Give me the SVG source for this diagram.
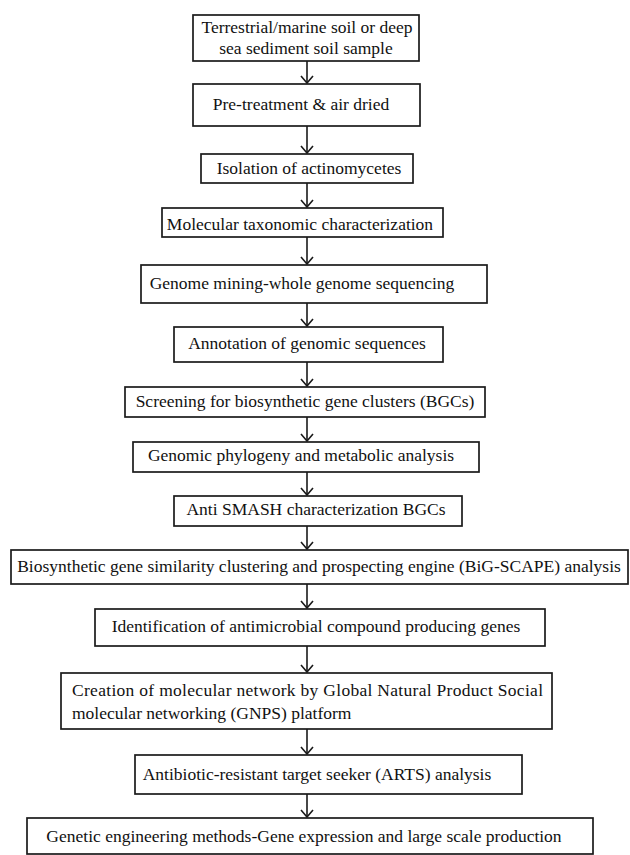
<svg xmlns="http://www.w3.org/2000/svg" width="630" height="855" viewBox="0 0 630 855">
<style>
.box{fill:#fff;stroke:#1a1a1a;stroke-width:1.7}
.t{font-family:"Liberation Serif","Times New Roman",serif;font-size:17.5px;fill:#111}
.c{text-anchor:middle}
.conn{stroke:#1a1a1a;stroke-width:1.6;fill:none}
</style>
<defs>
<marker id="arr" markerUnits="userSpaceOnUse" markerWidth="16" markerHeight="16" viewBox="0 0 16 16" refX="9" refY="7" orient="auto">
<path d="M2,1 L9,7 L2,13" fill="none" stroke="#1a1a1a" stroke-width="1.6"/>
</marker>
</defs>
<rect width="630" height="855" fill="#fff"/>
<g id="connectors">
<path class="conn" marker-end="url(#arr)" d="M307,61 V83"/>
<path class="conn" marker-end="url(#arr)" d="M307,126 V153"/>
<path class="conn" marker-end="url(#arr)" d="M307,183 V207"/>
<path class="conn" marker-end="url(#arr)" d="M307,237 V264"/>
<path class="conn" marker-end="url(#arr)" d="M307,303 V326"/>
<path class="conn" marker-end="url(#arr)" d="M307,362 V386"/>
<path class="conn" marker-end="url(#arr)" d="M307,417 V441"/>
<path class="conn" marker-end="url(#arr)" d="M307,472 V495"/>
<path class="conn" marker-end="url(#arr)" d="M307,526 V549"/>
<path class="conn" marker-end="url(#arr)" d="M307,584 V608"/>
<path class="conn" marker-end="url(#arr)" d="M307,646 V672"/>
<path class="conn" marker-end="url(#arr)" d="M307,729 V754"/>
<path class="conn" marker-end="url(#arr)" d="M307,794 V817"/>
</g>
<g id="n1"><rect class="box" x="193" y="15" width="226" height="46"/>
<text class="t c" x="307" y="33">Terrestrial/marine soil or deep</text>
<text class="t c" x="306" y="54">sea sediment soil sample</text></g>
<g id="n2"><rect class="box" x="193" y="84" width="227" height="42"/>
<text class="t c" x="301" y="110">Pre-treatment &amp; air dried</text></g>
<g id="n3"><rect class="box" x="201" y="154" width="212" height="29"/>
<text class="t c" x="309" y="174">Isolation of actinomycetes</text></g>
<g id="n4"><rect class="box" x="162" y="208" width="281" height="29"/>
<text class="t c" x="300" y="230">Molecular taxonomic characterization</text></g>
<g id="n5"><rect class="box" x="141" y="265" width="346" height="38"/>
<text class="t c" x="302" y="289">Genome mining-whole genome sequencing</text></g>
<g id="n6"><rect class="box" x="174" y="327" width="269" height="35"/>
<text class="t c" x="307" y="349">Annotation of genomic sequences</text></g>
<g id="n7"><rect class="box" x="125" y="387" width="360" height="30"/>
<text class="t c" x="305" y="407">Screening for biosynthetic gene clusters (BGCs)</text></g>
<g id="n8"><rect class="box" x="133" y="442" width="346" height="30"/>
<text class="t c" x="301" y="461">Genomic phylogeny and metabolic analysis</text></g>
<g id="n9"><rect class="box" x="174" y="496" width="288" height="30"/>
<text class="t c" x="316" y="515">Anti SMASH characterization BGCs</text></g>
<g id="n10"><rect class="box" x="11" y="550" width="617" height="34"/>
<text class="t c" x="319" y="572">Biosynthetic gene similarity clustering and prospecting engine (BiG-SCAPE) analysis</text></g>
<g id="n11"><rect class="box" x="95" y="609" width="450" height="37"/>
<text class="t c" x="316" y="632">Identification of antimicrobial compound producing genes</text></g>
<g id="n12"><rect class="box" x="61" y="673" width="491" height="56"/>
<text class="t" x="72" y="696" textLength="471" lengthAdjust="spacing">Creation of molecular network by Global Natural Product Social</text>
<text class="t" x="72" y="719">molecular networking (GNPS) platform</text></g>
<g id="n13"><rect class="box" x="135" y="755" width="387" height="39"/>
<text class="t c" x="317" y="780">Antibiotic-resistant target seeker (ARTS) analysis</text></g>
<g id="n14"><rect class="box" x="27" y="818" width="566" height="36"/>
<text class="t c" x="304" y="842">Genetic engineering methods-Gene expression and large scale production</text></g>
</svg>
